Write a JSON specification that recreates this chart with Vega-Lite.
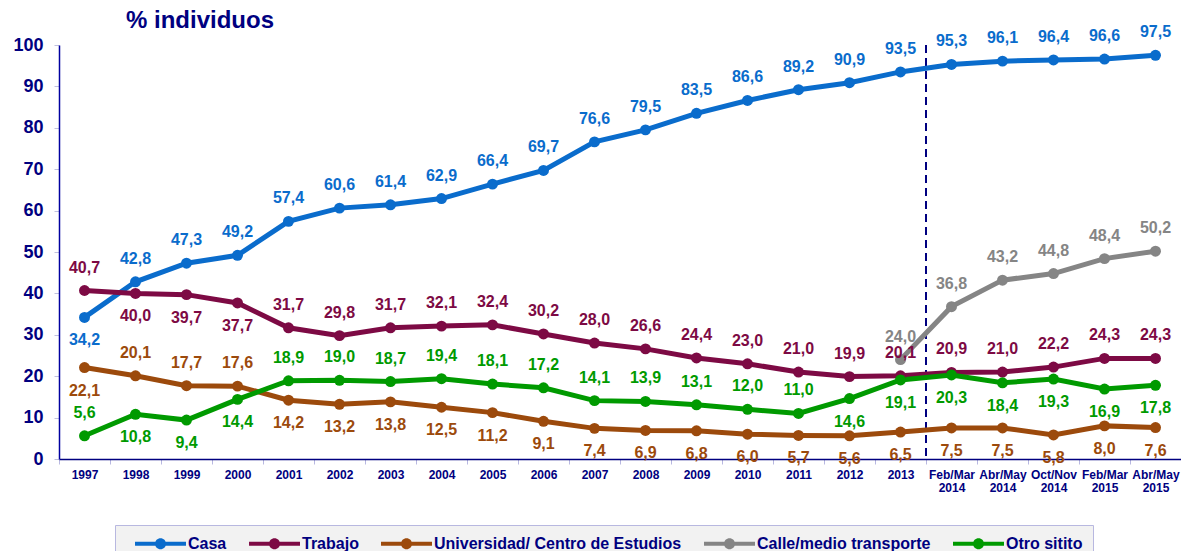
{
  "$schema": "https://vega.github.io/schema/vega-lite/v6.json",
  "width": 1122,
  "height": 414,
  "autosize": {"type": "none"},
  "padding": {"left": 59, "top": 45, "right": 0, "bottom": 92},
  "background": "white",
  "config": {
    "locale": {"number": {"decimal": ",", "thousands": ".", "grouping": [3], "currency": ["", " €"]}},
    "font": "Liberation Sans",
    "view": {"stroke": null}
  },
  "title": {"text": "% individuos", "anchor": "start", "dx": 113, "offset": -28, "fontSize": 24, "fontWeight": "bold", "color": "#000080", "font": "Liberation Sans", "baseline": "alphabetic"},
  "datasets": {
    "main": [
      {"p": "1997", "s": "Casa", "v": 34.2}, {"p": "1998", "s": "Casa", "v": 42.8}, {"p": "1999", "s": "Casa", "v": 47.3}, {"p": "2000", "s": "Casa", "v": 49.2},
      {"p": "2001", "s": "Casa", "v": 57.4}, {"p": "2002", "s": "Casa", "v": 60.6}, {"p": "2003", "s": "Casa", "v": 61.4}, {"p": "2004", "s": "Casa", "v": 62.9},
      {"p": "2005", "s": "Casa", "v": 66.4}, {"p": "2006", "s": "Casa", "v": 69.7}, {"p": "2007", "s": "Casa", "v": 76.6}, {"p": "2008", "s": "Casa", "v": 79.5},
      {"p": "2009", "s": "Casa", "v": 83.5}, {"p": "2010", "s": "Casa", "v": 86.6}, {"p": "2011", "s": "Casa", "v": 89.2}, {"p": "2012", "s": "Casa", "v": 90.9},
      {"p": "2013", "s": "Casa", "v": 93.5}, {"p": "Feb/Mar 2014", "s": "Casa", "v": 95.3}, {"p": "Abr/May 2014", "s": "Casa", "v": 96.1}, {"p": "Oct/Nov 2014", "s": "Casa", "v": 96.4},
      {"p": "Feb/Mar 2015", "s": "Casa", "v": 96.6}, {"p": "Abr/May 2015", "s": "Casa", "v": 97.5},

      {"p": "1997", "s": "Trabajo", "v": 40.7}, {"p": "1998", "s": "Trabajo", "v": 40.0}, {"p": "1999", "s": "Trabajo", "v": 39.7}, {"p": "2000", "s": "Trabajo", "v": 37.7},
      {"p": "2001", "s": "Trabajo", "v": 31.7}, {"p": "2002", "s": "Trabajo", "v": 29.8}, {"p": "2003", "s": "Trabajo", "v": 31.7}, {"p": "2004", "s": "Trabajo", "v": 32.1},
      {"p": "2005", "s": "Trabajo", "v": 32.4}, {"p": "2006", "s": "Trabajo", "v": 30.2}, {"p": "2007", "s": "Trabajo", "v": 28.0}, {"p": "2008", "s": "Trabajo", "v": 26.6},
      {"p": "2009", "s": "Trabajo", "v": 24.4}, {"p": "2010", "s": "Trabajo", "v": 23.0}, {"p": "2011", "s": "Trabajo", "v": 21.0}, {"p": "2012", "s": "Trabajo", "v": 19.9},
      {"p": "2013", "s": "Trabajo", "v": 20.1}, {"p": "Feb/Mar 2014", "s": "Trabajo", "v": 20.9}, {"p": "Abr/May 2014", "s": "Trabajo", "v": 21.0}, {"p": "Oct/Nov 2014", "s": "Trabajo", "v": 22.2},
      {"p": "Feb/Mar 2015", "s": "Trabajo", "v": 24.3}, {"p": "Abr/May 2015", "s": "Trabajo", "v": 24.3},

      {"p": "1997", "s": "Universidad/ Centro de Estudios", "v": 22.1}, {"p": "1998", "s": "Universidad/ Centro de Estudios", "v": 20.1}, {"p": "1999", "s": "Universidad/ Centro de Estudios", "v": 17.7}, {"p": "2000", "s": "Universidad/ Centro de Estudios", "v": 17.6},
      {"p": "2001", "s": "Universidad/ Centro de Estudios", "v": 14.2}, {"p": "2002", "s": "Universidad/ Centro de Estudios", "v": 13.2}, {"p": "2003", "s": "Universidad/ Centro de Estudios", "v": 13.8}, {"p": "2004", "s": "Universidad/ Centro de Estudios", "v": 12.5},
      {"p": "2005", "s": "Universidad/ Centro de Estudios", "v": 11.2}, {"p": "2006", "s": "Universidad/ Centro de Estudios", "v": 9.1}, {"p": "2007", "s": "Universidad/ Centro de Estudios", "v": 7.4}, {"p": "2008", "s": "Universidad/ Centro de Estudios", "v": 6.9},
      {"p": "2009", "s": "Universidad/ Centro de Estudios", "v": 6.8}, {"p": "2010", "s": "Universidad/ Centro de Estudios", "v": 6.0}, {"p": "2011", "s": "Universidad/ Centro de Estudios", "v": 5.7}, {"p": "2012", "s": "Universidad/ Centro de Estudios", "v": 5.6},
      {"p": "2013", "s": "Universidad/ Centro de Estudios", "v": 6.5}, {"p": "Feb/Mar 2014", "s": "Universidad/ Centro de Estudios", "v": 7.5}, {"p": "Abr/May 2014", "s": "Universidad/ Centro de Estudios", "v": 7.5}, {"p": "Oct/Nov 2014", "s": "Universidad/ Centro de Estudios", "v": 5.8},
      {"p": "Feb/Mar 2015", "s": "Universidad/ Centro de Estudios", "v": 8.0}, {"p": "Abr/May 2015", "s": "Universidad/ Centro de Estudios", "v": 7.6},

      {"p": "2013", "s": "Calle/medio transporte", "v": 24.0}, {"p": "Feb/Mar 2014", "s": "Calle/medio transporte", "v": 36.8}, {"p": "Abr/May 2014", "s": "Calle/medio transporte", "v": 43.2}, {"p": "Oct/Nov 2014", "s": "Calle/medio transporte", "v": 44.8},
      {"p": "Feb/Mar 2015", "s": "Calle/medio transporte", "v": 48.4}, {"p": "Abr/May 2015", "s": "Calle/medio transporte", "v": 50.2},

      {"p": "1997", "s": "Otro sitito", "v": 5.6}, {"p": "1998", "s": "Otro sitito", "v": 10.8}, {"p": "1999", "s": "Otro sitito", "v": 9.4}, {"p": "2000", "s": "Otro sitito", "v": 14.4},
      {"p": "2001", "s": "Otro sitito", "v": 18.9}, {"p": "2002", "s": "Otro sitito", "v": 19.0}, {"p": "2003", "s": "Otro sitito", "v": 18.7}, {"p": "2004", "s": "Otro sitito", "v": 19.4},
      {"p": "2005", "s": "Otro sitito", "v": 18.1}, {"p": "2006", "s": "Otro sitito", "v": 17.2}, {"p": "2007", "s": "Otro sitito", "v": 14.1}, {"p": "2008", "s": "Otro sitito", "v": 13.9},
      {"p": "2009", "s": "Otro sitito", "v": 13.1}, {"p": "2010", "s": "Otro sitito", "v": 12.0}, {"p": "2011", "s": "Otro sitito", "v": 11.0}, {"p": "2012", "s": "Otro sitito", "v": 14.6},
      {"p": "2013", "s": "Otro sitito", "v": 19.1}, {"p": "Feb/Mar 2014", "s": "Otro sitito", "v": 20.3}, {"p": "Abr/May 2014", "s": "Otro sitito", "v": 18.4}, {"p": "Oct/Nov 2014", "s": "Otro sitito", "v": 19.3},
      {"p": "Feb/Mar 2015", "s": "Otro sitito", "v": 16.9}, {"p": "Abr/May 2015", "s": "Otro sitito", "v": 17.8}
    ]
  },
  "data": {"name": "main"},
  "layer": [
    {
      "data": {"values": [{"p": "Feb/Mar 2014"}]},
      "mark": {"type": "rule", "strokeDash": [8, 5], "strokeWidth": 2, "color": "#000080"},
      "encoding": {
        "x": {"field": "p", "type": "ordinal", "bandPosition": 0,
          "scale": {"type": "band", "paddingInner": 0, "paddingOuter": 0, "domain": ["1997","1998","1999","2000","2001","2002","2003","2004","2005","2006","2007","2008","2009","2010","2011","2012","2013","Feb/Mar 2014","Abr/May 2014","Oct/Nov 2014","Feb/Mar 2015","Abr/May 2015"]},
          "axis": {"title": null, "labelAngle": 0, "labelExpr": "split(datum.label, ' ')", "labelFontSize": 12, "labelFontWeight": "bold", "labelColor": "#000080", "labelLineHeight": 13, "labelPadding": 5, "tickBand": "extent", "tickColor": "#b8b8e0", "tickSize": 5, "domainColor": "#000080", "domainWidth": 1.5, "grid": false, "labelOverlap": false, "labelBound": false}
        }
      }
    },
    {
      "encoding": {
        "x": {"field": "p", "type": "ordinal", "bandPosition": 0.5,
          "scale": {"type": "band", "paddingInner": 0, "paddingOuter": 0, "domain": ["1997","1998","1999","2000","2001","2002","2003","2004","2005","2006","2007","2008","2009","2010","2011","2012","2013","Feb/Mar 2014","Abr/May 2014","Oct/Nov 2014","Feb/Mar 2015","Abr/May 2015"]},
          "axis": {"title": null, "labelAngle": 0, "labelExpr": "split(datum.label, ' ')", "labelFontSize": 12, "labelFontWeight": "bold", "labelColor": "#000080", "labelLineHeight": 13, "labelPadding": 5, "tickBand": "extent", "tickColor": "#b8b8e0", "tickSize": 5, "domainColor": "#000080", "domainWidth": 1.5, "grid": false, "labelOverlap": false, "labelBound": false}
        },
        "y": {"field": "v", "type": "quantitative",
          "scale": {"domain": [0, 100], "nice": false},
          "axis": {"title": null, "values": [0, 10, 20, 30, 40, 50, 60, 70, 80, 90, 100], "labelFontSize": 18, "labelFontWeight": "bold", "labelColor": "#000080", "labelPadding": 11, "tickColor": "#c0c0e0", "tickSize": 5, "domainColor": "#0000a0", "domainWidth": 1.5, "grid": false}
        },
        "color": {"field": "s", "type": "nominal",
          "scale": {"domain": ["Casa", "Trabajo", "Universidad/ Centro de Estudios", "Calle/medio transporte", "Otro sitito"], "range": ["#0A6CCC", "#7D0A44", "#9C4A0C", "#858585", "#009A00"]},
          "legend": {"title": null, "orient": "none", "legendX": 56, "legendY": 480, "direction": "horizontal", "columns": 5,
            "symbolType": "M0.18,-0.24 H6.18 V0.24 H0.18 Z M3.83,0 A0.65,0.65 0 1,1 2.53,0 A0.65,0.65 0 1,1 3.83,0 Z",
            "symbolSize": 289, "symbolStrokeWidth": 0, "symbolOpacity": 1,
            "labelFontSize": 16, "labelFontWeight": "bold", "labelColor": "#000080", "labelOffset": 46, "labelLimit": 400,
            "columnPadding": 12, "padding": 10, "fillColor": "#f2f2f2", "strokeColor": "#b8b8e0",
            "encode": {"symbols": {"update": {"fill": {"scale": "color", "field": "value"}, "stroke": {"value": "transparent"}, "opacity": {"value": 1}}}}
          }
        }
      },
      "layer": [
        {"mark": {"type": "line", "strokeWidth": 5}},
        {"mark": {"type": "circle", "size": 120, "opacity": 1}},
        {
          "transform": [{"filter": "!((datum.s=='Casa'&&datum.p=='1997')||(datum.s=='Trabajo'&&indexof(['1998','1999','2000'],datum.p)>=0)||(datum.s=='Universidad/ Centro de Estudios'&&indexof(['1998','1999','2000'],datum.p)<0)||(datum.s=='Otro sitito'&&indexof(['1998','1999','2000','2012','2013','Feb/Mar 2014','Abr/May 2014','Oct/Nov 2014','Feb/Mar 2015','Abr/May 2015'],datum.p)>=0))"}],
          "mark": {"type": "text", "fontSize": 16, "fontWeight": "bold", "baseline": "middle", "dy": -23},
          "encoding": {"text": {"field": "v", "type": "quantitative", "format": ".1f"}}
        },
        {
          "transform": [{"filter": "(datum.s=='Casa'&&datum.p=='1997')||(datum.s=='Trabajo'&&indexof(['1998','1999','2000'],datum.p)>=0)||(datum.s=='Universidad/ Centro de Estudios'&&indexof(['1998','1999','2000'],datum.p)<0)||(datum.s=='Otro sitito'&&indexof(['1998','1999','2000','2012','2013','Feb/Mar 2014','Abr/May 2014','Oct/Nov 2014','Feb/Mar 2015','Abr/May 2015'],datum.p)>=0)"}],
          "mark": {"type": "text", "fontSize": 16, "fontWeight": "bold", "baseline": "middle", "dy": 23},
          "encoding": {"text": {"field": "v", "type": "quantitative", "format": ".1f"}}
        }
      ]
    }
  ]
}
